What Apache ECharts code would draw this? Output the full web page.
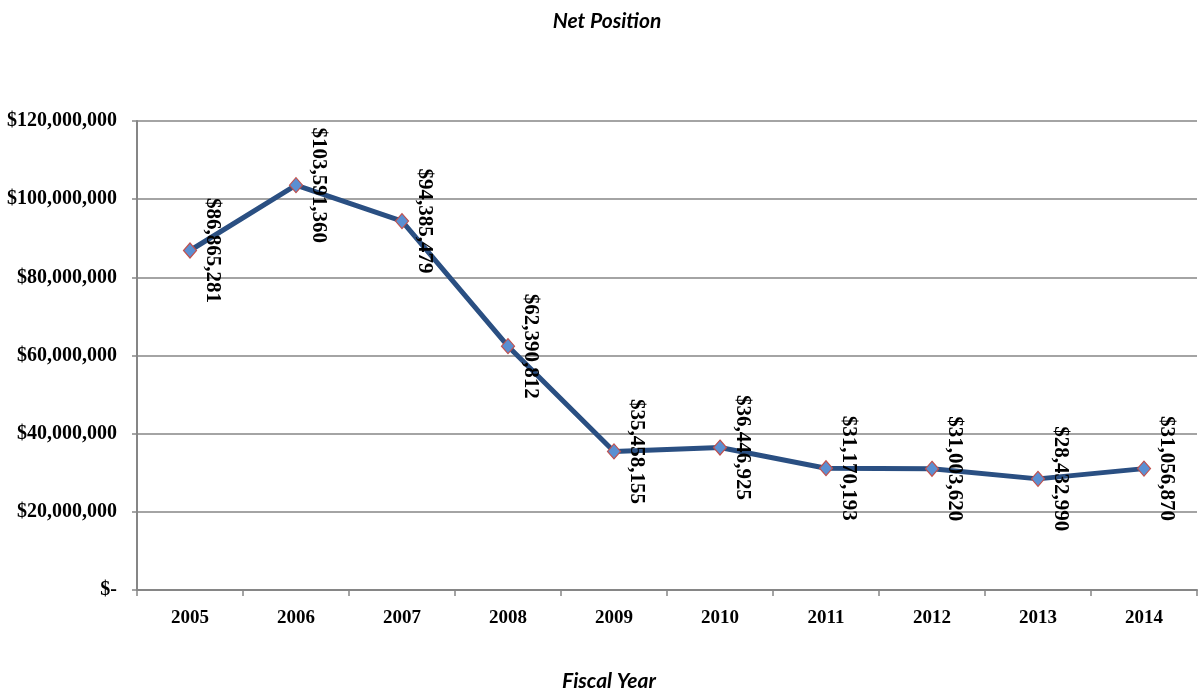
<!DOCTYPE html>
<html>
<head>
<meta charset="utf-8">
<script src="https://cdn.jsdelivr.net/npm/echarts@6/dist/echarts.min.js"></script>
<style>
html,body{margin:0;padding:0;background:#fff;}
#chart{width:1199px;height:690px;}
</style>
</head>
<body>
<div id="chart"></div>
<script>
var categories = ['2005','2006','2007','2008','2009','2010','2011','2012','2013','2014'];
var netPosition = [86865281, 103591360, 94385479, 62390812, 35458155, 36446925, 31170193, 31003620, 28432990, 31056870];
var yTicks = [0, 20000000, 40000000, 60000000, 80000000, 100000000, 120000000];

function money(v) {
  if (v === 0) return '$-';
  return '$' + v.toString().replace(/\B(?=(\d{3})+(?!\d))/g, ',');
}

var titleFont = { fontFamily: 'Lato', fontStyle: 'italic', fontWeight: 'bold', fontSize: 21, color: '#000' };

var chart = echarts.init(document.getElementById('chart'));
chart.setOption({
  backgroundColor: '#ffffff',
  animation: false,
  title: [{
    text: 'Net Position',
    left: 602, textAlign: 'center', top: 6,
    textStyle: titleFont
  }, {
    text: 'Fiscal Year',
    left: 604, textAlign: 'center', top: 666,
    textStyle: titleFont
  }],
  grid: { left: 137, right: 2, top: 121, bottom: 100 },
  xAxis: {
    type: 'category',
    data: categories,
    boundaryGap: true,
    axisLine: { lineStyle: { color: '#868686', width: 2 } },
    axisTick: { show: true, length: 6, interval: 0, lineStyle: { color: '#868686', width: 1.5 } },
    axisLabel: { margin: 19, fontFamily: 'Liberation Serif', fontWeight: 'bold', fontSize: 19, color: '#000', interval: 0 }
  },
  yAxis: {
    type: 'value',
    min: yTicks[0], max: yTicks[yTicks.length - 1], interval: yTicks[1] - yTicks[0],
    axisLine: { show: true, lineStyle: { color: '#868686', width: 2 } },
    axisTick: { show: true, length: 5, lineStyle: { color: '#868686', width: 1.5 } },
    splitLine: { lineStyle: { color: '#868686', width: 1.5 } },
    axisLabel: { margin: 20, fontFamily: 'Liberation Serif', fontWeight: 'bold', fontSize: 20, color: '#000', formatter: money }
  },
  series: [{
    type: 'line',
    data: netPosition,
    symbol: 'diamond',
    symbolSize: [13, 15],
    lineStyle: { color: '#2a4f82', width: 5 },
    itemStyle: { color: '#5a8fd2', borderColor: '#c0504d', borderWidth: 1.2 },
    label: {
      show: true,
      position: 'right',
      distance: 15,
      rotate: -90,
      align: 'center',
      verticalAlign: 'middle',
      fontFamily: 'Liberation Serif', fontWeight: 'bold', fontSize: 21, color: '#000',
      formatter: function (p) { return money(p.value); }
    }
  }]
});
</script>
</body>
</html>
